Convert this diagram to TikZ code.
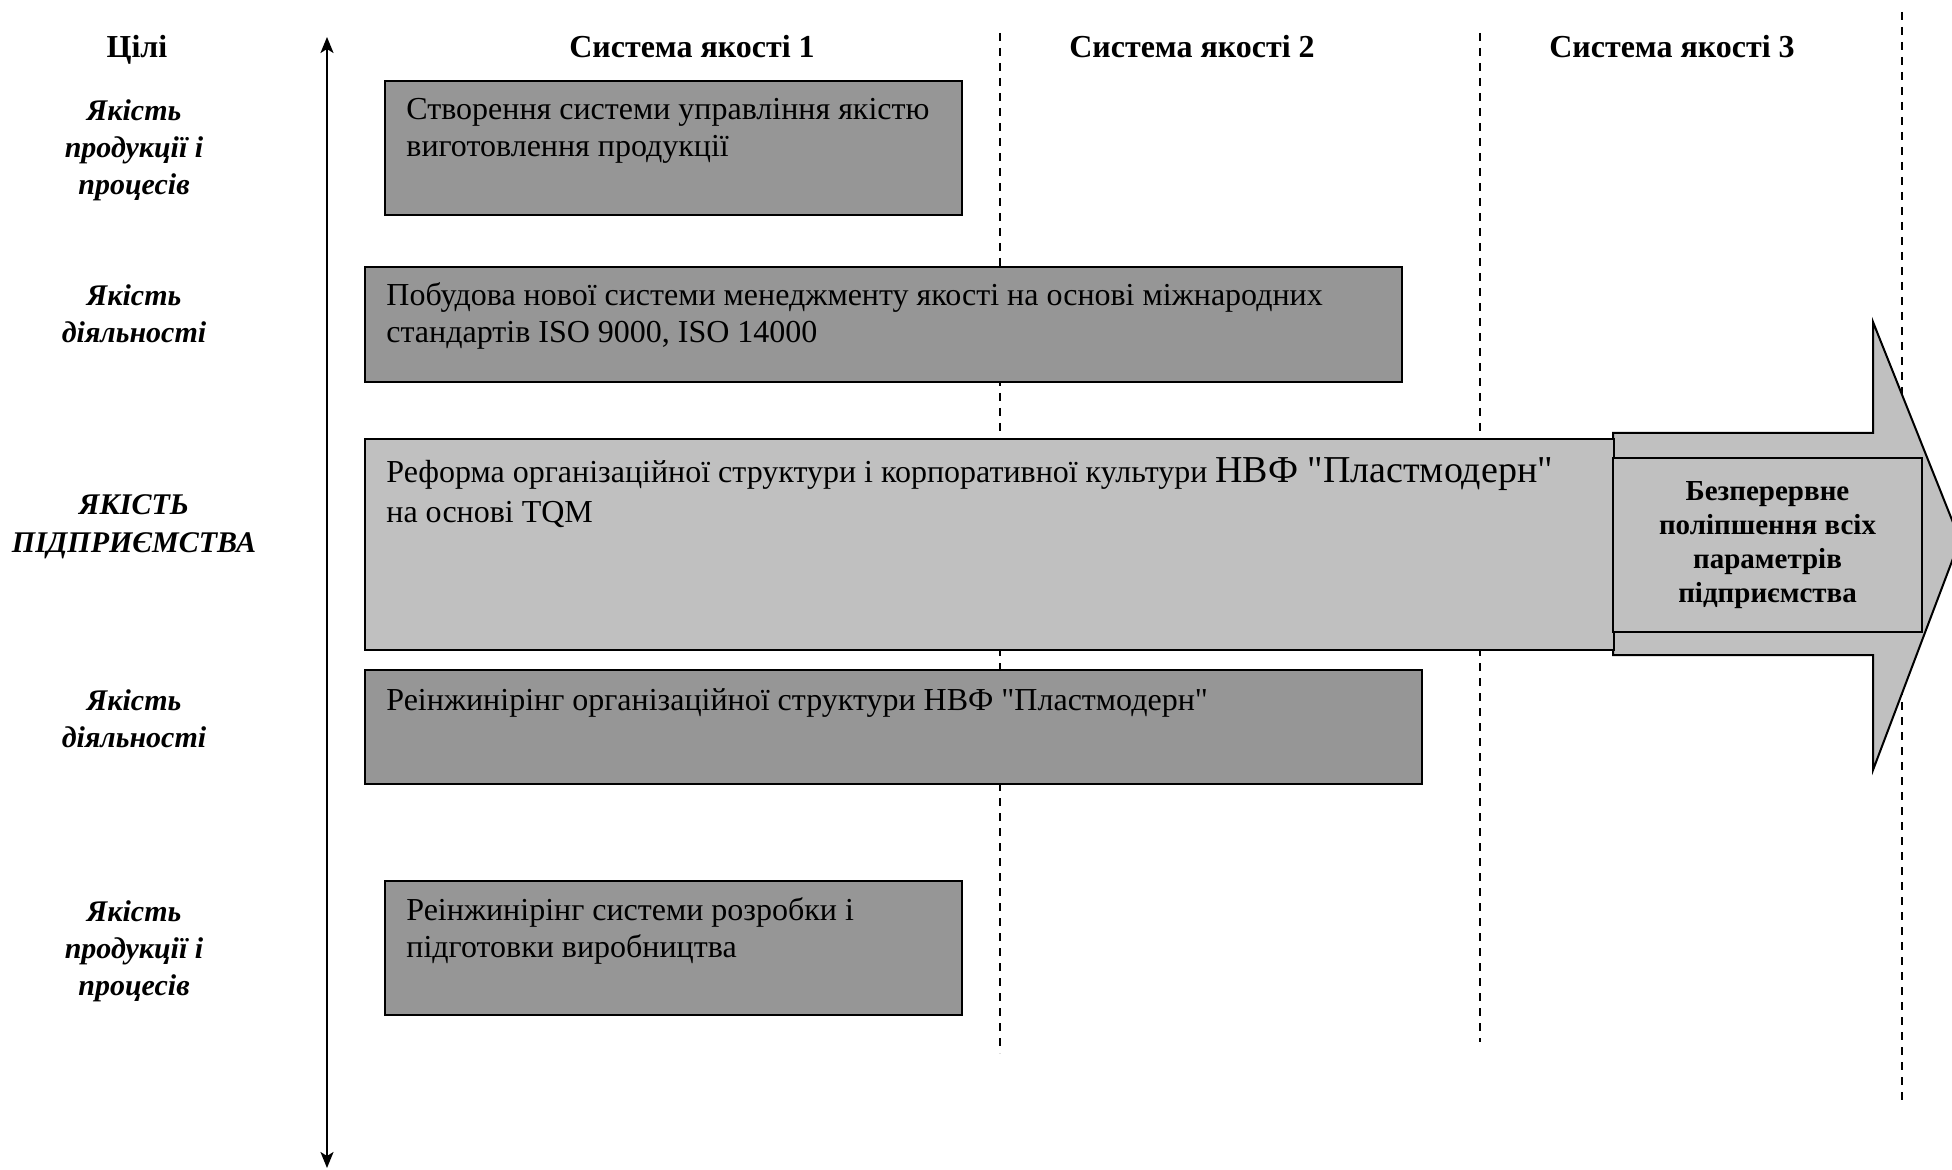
\documentclass[tikz,border=0pt]{standalone}
\usepackage{fontspec}
\setmainfont{Liberation Serif}[Ligatures=TeXOff]
\usetikzlibrary{arrows.meta}
\definecolor{boxdark}{RGB}{150,150,150}
\definecolor{boxlight}{RGB}{192,192,192}
\begin{document}
\begin{tikzpicture}[x=0.5pt,y=-0.5pt,
  bar/.style={draw=black, line width=1pt, fill=boxdark, inner sep=0pt, outer sep=0pt, anchor=north west},
  barlight/.style={bar, fill=boxlight},
  bartext/.style={anchor=base west, inner sep=0pt, align=left, font=\fontsize{16}{18.5}\selectfont},
  goal/.style={anchor=base, inner sep=0pt, align=center, font=\fontsize{15}{18.5}\selectfont\bfseries\itshape},
  colhead/.style={anchor=base, inner sep=0pt, font=\fontsize{16}{18}\selectfont\bfseries},
  divider/.style={line width=0.7pt, dash pattern=on 4pt off 3.5pt},
  axis/.style={line width=1pt, {Stealth[length=8pt,width=6.5pt,inset=2pt]}-{Stealth[length=8pt,width=6.5pt,inset=2pt]}},
  bigarrow/.style={draw=black, line width=1pt, fill=boxlight, line join=miter},
  resultbox/.style={draw=black, line width=1pt, fill=boxlight, inner sep=0pt, outer sep=0pt, anchor=north west, align=center, font=\fontsize{14.5}{17}\selectfont\bfseries},
]
\useasboundingbox (0,0) rectangle (1952,1170);
\clip (0,0) rectangle (1952,1170);

% column dividers
\coordinate (d1t) at (1000,33);  \coordinate (d1b) at (1000,1053);
\coordinate (d2t) at (1480,33);  \coordinate (d2b) at (1480,1042);
\coordinate (d3t) at (1902,12);  \coordinate (d3b) at (1902,1105);
\draw[divider] (d1t) -- (d1b);
\draw[divider] (d2t) -- (d2b);
\draw[divider] (d3t) -- (d3b);

% vertical axis
\coordinate (axtop) at (327,37);
\coordinate (axbot) at (327,1168);
\draw[axis] (axbot) -- (axtop);

% headers
\node[colhead] (h0) at (137,58) {Цілі};
\node[colhead] (h1) at (692,58) {Система якості 1};
\node[colhead] (h2) at (1192,58) {Система якості 2};
\node[colhead] (h3) at (1672,58) {Система якості 3};

% goals (anchor = baseline of last line)
\node[goal] (g1) at (134,195) {Якість\\продукції і\\процесів};
\node[goal] (g2) at (134,343) {Якість\\діяльності};
\node[goal] (g3) at (134,552) {ЯКІСТЬ\\ПІДПРИЄМСТВА};
\node[goal] (g4) at (134,747) {Якість\\діяльності};
\node[goal] (g5) at (134,995) {Якість\\продукції і\\процесів};

% big arrow
\draw[bigarrow] (1613,433) -- (1873,433) -- (1873,322) -- (1960,540) -- (1873,770) -- (1873,655) -- (1613,655) -- cycle;

% bars
\node[bar, minimum width=288.5pt, minimum height=67pt] (b1) at (385,81) {};
\node[bar, minimum width=518.5pt, minimum height=57.5pt] (b2) at (365,267) {};
\node[barlight, minimum width=624.5pt, minimum height=105.5pt] (b3) at (365,439) {};
\node[bar, minimum width=528.5pt, minimum height=57pt] (b4) at (365,670) {};
\node[bar, minimum width=288.5pt, minimum height=67pt] (b5) at (385,881) {};

% bar texts (anchor = baseline of last line)
\node[bartext] (t1) at (406,157) {Створення системи управління якістю\\виготовлення продукції};
\node[bartext] (t2) at (386,343) {Побудова нової системи менеджменту якості на основі міжнародних\\стандартів ISO 9000, ISO 14000};
\node[bartext] (t3) at (386,522) {Реформа організаційної структури і корпоративної культури {\fontsize{19}{22}\selectfont НВФ "Пластмодерн"}\\[1.5pt]на основі TQM};
\node[bartext] (t4) at (386,710) {Реінжинірінг організаційної структури НВФ "Пластмодерн"};
\node[bartext] (t5) at (406,957) {Реінжинірінг системи розробки і\\підготовки виробництва};

% result box on arrow
\node[resultbox, minimum width=154.5pt, minimum height=87pt] (r) at (1613,458) {Безперервне\\поліпшення всіх\\параметрів\\підприємства};
\end{tikzpicture}
\end{document}
